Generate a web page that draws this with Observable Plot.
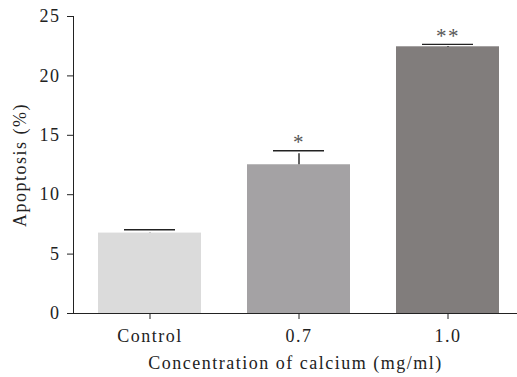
<!DOCTYPE html>
<html>
<head>
<meta charset="utf-8">
<script src="https://cdn.jsdelivr.net/npm/d3@7"></script>
<script src="https://cdn.jsdelivr.net/npm/@observablehq/plot@0.6"></script>
<style>
  html, body { margin: 0; padding: 0; background: #fff; }
  #chart svg, #chart svg text { font-family: "Liberation Serif", "Times New Roman", serif !important; }
</style>
</head>
<body>
<div id="chart"></div>
<script>
const groups = ["Control", "0.7", "1.0"];
const means = [6.77, 12.52, 22.45];
const errors = [0.28, 1.18, 0.2];
const marks = ["", "*", "**"];
const yTicks = [0, 5, 10, 15, 20, 25];
const barColors = ["#dbdbdb", "#a4a2a4", "#817d7c"];

const data = groups.map((g, i) => ({group: g, value: means[i], err: errors[i], sig: marks[i]}));

const chart = Plot.plot({
  width: 517,
  height: 377,
  marginLeft: 73,
  marginRight: 0,
  marginTop: 16,
  marginBottom: 64,
  style: {
    fontSize: "18px",
    color: "#222",
    background: "#fff",
    letterSpacing: "1.5px"
  },
  x: {
    domain: groups,
    paddingInner: 0.31,
    paddingOuter: 0.14,
    align: 0.57,
    label: "Concentration of calcium (mg/ml)",
    labelAnchor: "center",
    labelArrow: "none",
    labelOffset: 55,
    tickSize: 6,
    tickPadding: 10,
    line: true
  },
  y: {
    domain: [0, 25],
    ticks: yTicks,
    label: "Apoptosis (%)",
    labelAnchor: "center",
    labelArrow: "none",
    labelOffset: 60,
    tickSize: 6,
    tickPadding: 7,
    line: true
  },
  color: {domain: groups, range: barColors},
  marks: [
    Plot.barY(data, {x: "group", y: "value", fill: "group"}),
    Plot.ruleX(data, {x: "group", y1: "value", y2: d => d.value + d.err, stroke: "#222", strokeWidth: 1.4, insetBottom: -3}),
    Plot.tickY(data, {x: "group", y: d => d.value + d.err, stroke: "#222", strokeWidth: 1.4, insetLeft: 26, insetRight: 26}),
    Plot.text(data, {x: "group", y: d => d.value + d.err, text: "sig", dy: -8, fontSize: 21, fill: "#555", letterSpacing: 1})
  ]
});
document.getElementById("chart").appendChild(chart);
</script>
</body>
</html>
